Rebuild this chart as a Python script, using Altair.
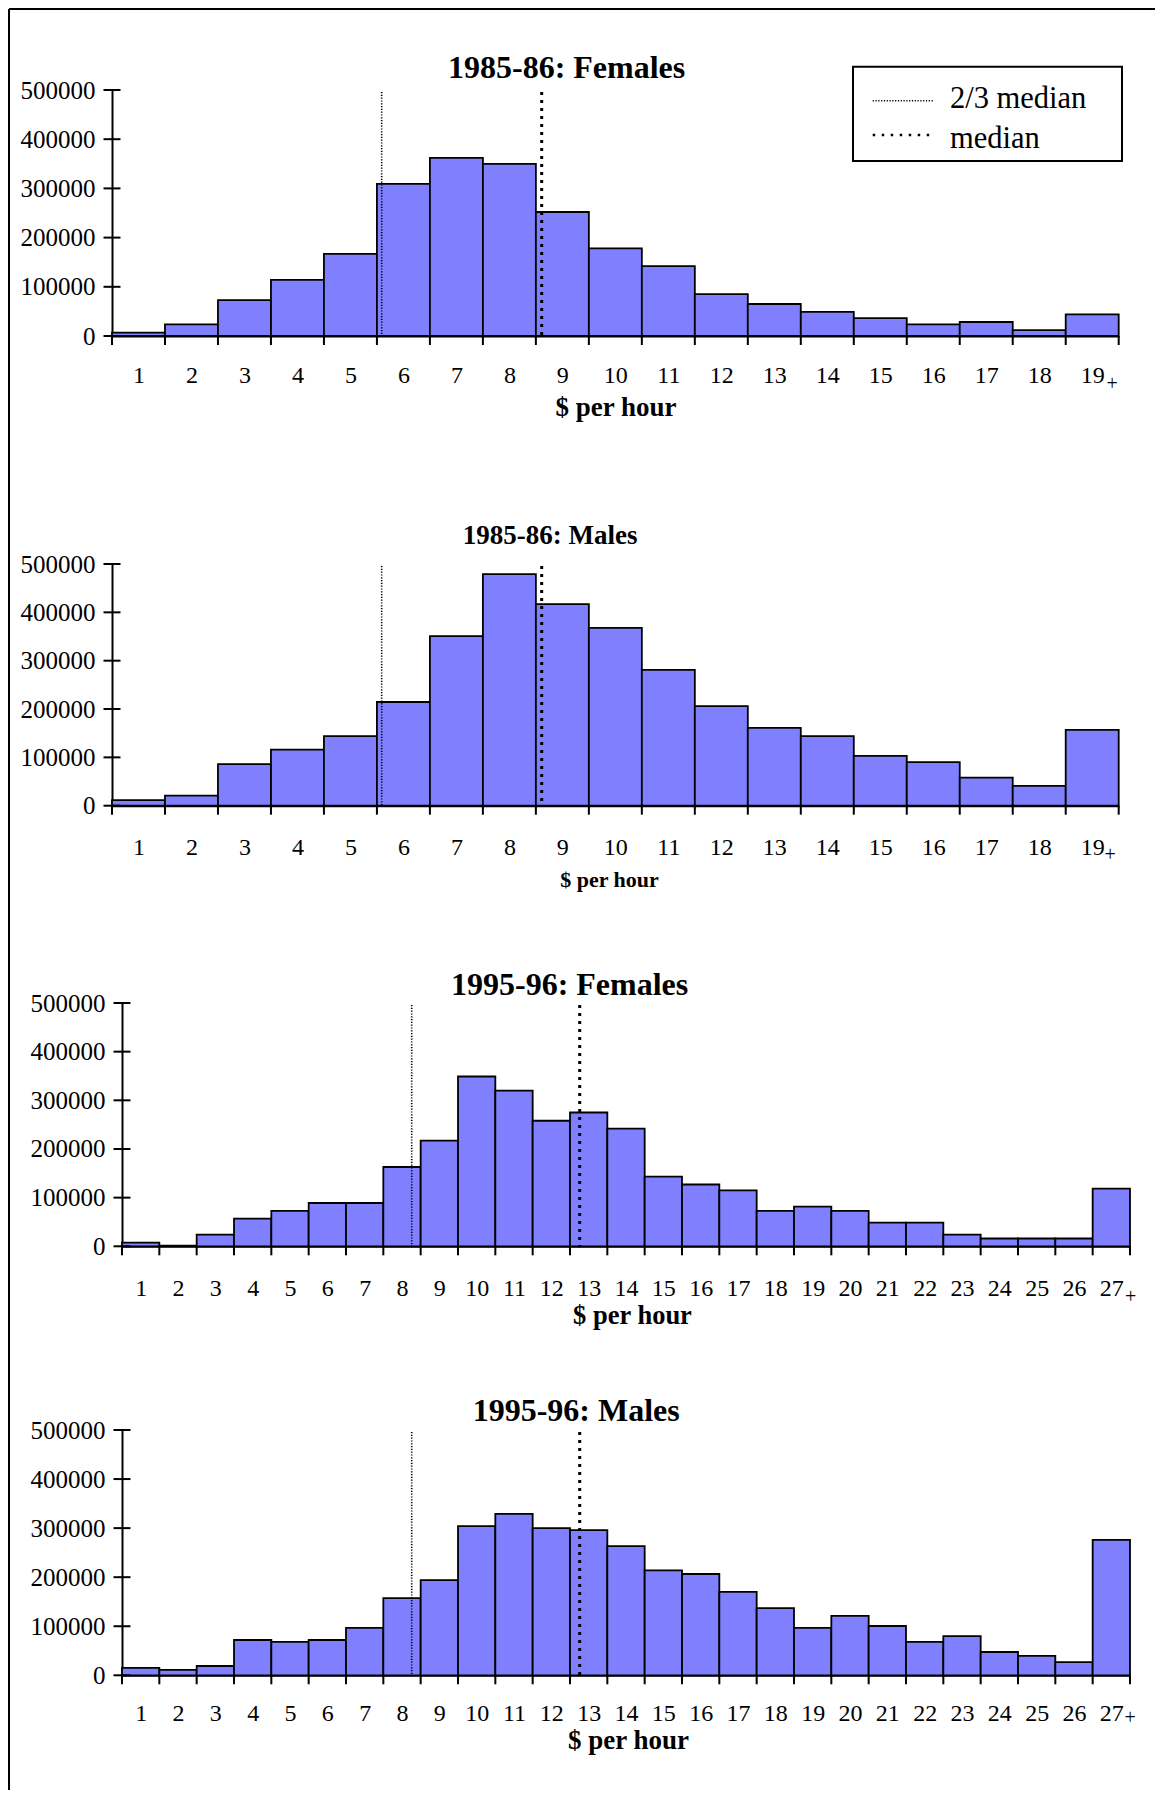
import altair as alt
import pandas as pd

FONT = "Liberation Serif"
BAR_FILL = "#8080ff"

# ---------------- data ----------------
wage_85 = list(range(1, 20))          # $ per hour bins 1..19 (last is 19+)
wage_95 = list(range(1, 28))          # $ per hour bins 1..27 (last is 27+)

females_85 = [7000, 23500, 73000, 114000, 167000, 309000, 362000, 350000, 252000,
              178000, 142000, 85000, 65000, 49000, 36500, 23500, 28500, 12000, 44000]
males_85 = [11700, 20700, 86000, 116000, 144000, 214500, 351000, 479000, 417000,
            368000, 281000, 206000, 161000, 144000, 103000, 90000, 58000, 41000, 157000]
females_95 = [7500, 1500, 24000, 57000, 73000, 89000, 89000, 163000, 217000, 349000,
              320000, 258000, 275000, 242000, 143000, 127000, 115000, 73000, 81500,
              73000, 48500, 48500, 24000, 16000, 16000, 16000, 118500]
males_95 = [15000, 11000, 19000, 72000, 68000, 72000, 96500, 157500, 194000, 304000,
            329000, 300000, 296000, 263500, 214000, 206500, 170000, 137000, 96500,
            121000, 100500, 68000, 80000, 47500, 39500, 27000, 276000]

titles = ["1985-86: Females", "1985-86: Males", "1995-96: Females", "1995-96: Males"]
median_values = [9.11, 9.11, 13.26, 13.26]
two_thirds_values = [6.09, 6.09, 8.76, 8.76]
y_ticks = [0, 100000, 200000, 300000, 400000, 500000]
x_title = "$ per hour"
legend_labels = ["2/3 median", "median"]

# ---------------- layout (pixels) ----------------
geo = [
    dict(w=1006.7, x0=0, h=246.0, e=0, tsize=32, tdx=336, tgap=11.7, xts=27, xtx=503.5,
         lab=39, xty=71, pdx=20, pdy=48),
    dict(w=1006.7, x0=0, h=241.7, e=45, tsize=27, tdx=350.7, tgap=20, xts=22, xtx=497,
         lab=41.7, xty=74, pdx=18, pdy=49),
    dict(w=1008.0, x0=10, h=243.3, e=14, tsize=32, tdx=329, tgap=7.7, xts=26.5, xtx=520,
         lab=42.3, xty=69, pdx=19.4, pdy=51),
    dict(w=1008.0, x0=10, h=245.3, e=0, tsize=32, tdx=350.7, tgap=9.4, xts=27, xtx=516,
         lab=38.5, xty=65, pdx=18.7, pdy=43),
]

one = pd.DataFrame({"k": [0]})


def panel(i, wages, counts, with_legend=False):
    g = geo[i]
    H = g["h"] + g["e"]
    W = g["x0"] + g["w"]
    df = pd.DataFrame({"lo": wages, "hi": [w + 1 for w in wages], "count": counts})
    xs = alt.Scale(domain=[wages[0], wages[-1] + 1], range=[g["x0"], W], nice=False, zero=False)
    ys = alt.Scale(domain=[0, 500000], range=[H, g["e"]], nice=False, zero=True)
    xax = alt.Axis(
        values=[w + 0.5 for w in wages], labelExpr="floor(datum.value) + ''",
        ticks=False, tickSize=0, labelPadding=g["lab"], labelBaseline="middle",
        labelFontSize=24, labelFlush=False, labelOverlap=False, labelBound=False,
        title=x_title, titleFontSize=g["xts"], titleFontWeight="bold",
        titleX=g["xtx"], titleY=g["xty"], titleBaseline="middle", grid=False)
    yax = alt.Axis(
        values=y_ticks, format="d", ticks=False, tickSize=0, labelPadding=17,
        labelFontSize=25, labelOverlap=False, offset=-g["x0"], title=None, grid=False)

    bars = alt.Chart(df).mark_rect(fill=BAR_FILL, stroke="black", strokeWidth=1.8).encode(
        x=alt.X("lo:Q", scale=xs, axis=xax),
        x2="hi:Q",
        y=alt.Y("count:Q", scale=ys, axis=yax),
        y2=alt.datum(0),
    )

    ytk = alt.Chart(pd.DataFrame({"v": y_ticks})).mark_rule(color="black", strokeWidth=2).encode(
        y=alt.Y("v:Q", scale=ys, axis=yax),
        x=alt.value(g["x0"] - 8.5), x2=alt.value(g["x0"] + 8.5))

    xtk = alt.Chart(pd.DataFrame({"b": list(range(wages[0], wages[-1] + 2))})).mark_rule(
        color="black", strokeWidth=2).encode(
        x=alt.X("b:Q", scale=xs, axis=xax), y=alt.value(H), y2=alt.value(H + 9))

    tt = alt.Chart(pd.DataFrame({"m": [two_thirds_values[i]]})).mark_rule(
        color="black", strokeWidth=1.6, strokeDash=[1.2, 1.6]).encode(
        x=alt.X("m:Q", scale=xs, axis=xax), y=alt.value(g["e"] + 2), y2=alt.value(H))

    med = alt.Chart(pd.DataFrame({"m": [median_values[i]]})).mark_rule(
        color="black", strokeWidth=3, strokeDash=[3, 5]).encode(
        x=alt.X("m:Q", scale=xs, axis=xax), y=alt.value(g["e"] + 2), y2=alt.value(H + 1))

    plus = alt.Chart(pd.DataFrame({"c": [wages[-1] + 0.5]})).mark_text(
        text="+", font=FONT, fontSize=20, dx=g["pdx"], color="black", baseline="middle").encode(
        x=alt.X("c:Q", scale=xs, axis=xax), y=alt.value(H + g["pdy"]))

    ttl = alt.Chart(one).mark_text(
        text=titles[i], font=FONT, fontSize=g["tsize"], fontWeight="bold", align="left",
        baseline="alphabetic", color="black").encode(
        x=alt.value(g["x0"] + g["tdx"]), y=alt.value(g["e"] - g["tgap"]))

    layers = [bars, xtk, ytk, tt, med, plus, ttl]

    if with_legend:
        box = alt.Chart(one).mark_rect(fill="white", stroke="black", strokeWidth=2).encode(
            x=alt.value(741), x2=alt.value(1010), y=alt.value(-23.3), y2=alt.value(71))
        l1 = alt.Chart(one).mark_rule(color="black", strokeWidth=1.6, strokeDash=[1.2, 1.6]).encode(
            x=alt.value(760.7), x2=alt.value(822.3), y=alt.value(10.7))
        l2 = alt.Chart(one).mark_rule(color="black", strokeWidth=2.5, strokeDash=[2.5, 6.5]).encode(
            x=alt.value(760.7), x2=alt.value(822.3), y=alt.value(45))
        t1 = alt.Chart(one).mark_text(text=legend_labels[0], font=FONT, fontSize=30.5, align="left",
                                      baseline="alphabetic", color="black").encode(
            x=alt.value(838), y=alt.value(18.3))
        t2 = alt.Chart(one).mark_text(text=legend_labels[1], font=FONT, fontSize=30.5, align="left",
                                      baseline="alphabetic", color="black").encode(
            x=alt.value(838), y=alt.value(58.3))
        ftop = alt.Chart(one).mark_rule(color="black", strokeWidth=2).encode(
            x=alt.value(-103), x2=alt.value(1043), y=alt.value(-81))
        fleft = alt.Chart(one).mark_rule(color="black", strokeWidth=2).encode(
            x=alt.value(-103), y=alt.value(-81), y2=alt.value(1700))
        layers += [box, l1, l2, t1, t2, ftop, fleft]

    return alt.layer(*layers).properties(width=W, height=H)


p1 = panel(0, wage_85, females_85, with_legend=True)
p2 = panel(1, wage_85, males_85)
p3 = panel(2, wage_95, females_95)
p4 = panel(3, wage_95, males_95)

chart = alt.vconcat(p1, p2, p3, p4, spacing=183, bounds="flush").properties(
    padding=0
).configure_view(strokeWidth=0).configure_axis(
    domainColor="black", domainWidth=2, labelColor="black", labelFont=FONT,
    titleFont=FONT, titleColor="black", labelOverlap=False
)

chart.save("out.html", embed_options={"renderer": "svg", "actions": False})
